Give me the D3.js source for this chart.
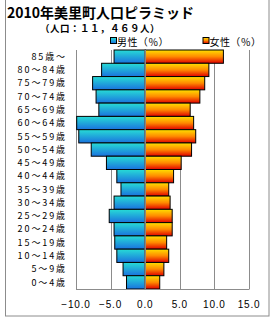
<!DOCTYPE html>
<html><head><meta charset="utf-8">
<script src="https://cdn.jsdelivr.net/npm/d3@7"></script>
<style>
html,body{margin:0;padding:0;background:#fff;}
svg{display:block;}
</style></head>
<body>
<script>
const categories = ["85歳〜","80〜84歳","75〜79歳","70〜74歳","65〜69歳","60〜64歳","55〜59歳","50〜54歳","45〜49歳","40〜44歳","35〜39歳","30〜34歳","25〜29歳","20〜24歳","15〜19歳","10〜14歳","5〜9歳","0〜4歳"];
const male =   [4.5, 6.3, 7.6, 7.1, 6.7, 9.9, 9.6, 7.8, 5.6, 4.1, 3.5, 4.5, 5.2, 4.5, 4.4, 4.1, 3.2, 2.7];
const female = [11.3, 9.2, 8.6, 7.9, 6.5, 7.0, 7.3, 6.7, 5.2, 4.1, 3.4, 3.6, 3.9, 3.9, 3.1, 3.4, 2.7, 2.1];
const xTicks = [-10, -5, 0, 5, 10, 15];
const title = "2010年美里町人口ピラミッド";
const subtitle = "（人口：１１，４６９人）";
const legendLabels = ["男性（％）", "女性（％）"];

const W = 270, H = 320;
const svg = d3.select("body").append("svg").attr("width", W).attr("height", H);
const defs = svg.append("defs");
const gm = defs.append("linearGradient").attr("id","gm").attr("x1",0).attr("y1",0).attr("x2",0).attr("y2",1);
gm.append("stop").attr("offset","0%").attr("stop-color","#27dcd6");
gm.append("stop").attr("offset","100%").attr("stop-color","#1a72de");
const gf = defs.append("linearGradient").attr("id","gf").attr("x1",0).attr("y1",0).attr("x2",0).attr("y2",1);
gf.append("stop").attr("offset","0%").attr("stop-color","#ffe000");
gf.append("stop").attr("offset","50%").attr("stop-color","#ff8a00");
gf.append("stop").attr("offset","100%").attr("stop-color","#e00000");

// outer border
svg.append("rect").attr("x",5.5).attr("y",-5).attr("width",263.5).attr("height",321)
  .attr("fill","none").attr("stroke","#8c8c8c");

const x = d3.scaleLinear().domain([-10, 15]).range([76, 249]);
const y = d3.scaleBand().domain(categories).range([50, 289]).padding(0);

const font = "'Noto Sans CJK JP', sans-serif";

// title
svg.append("text").attr("x",7).attr("y",18).attr("font-family",font).attr("font-weight","bold")
  .attr("font-size","14px").attr("fill","#000").text(title);
svg.append("text").attr("x",40).attr("y",31.5).attr("font-family",font).attr("font-weight","bold")
  .attr("font-size","9.5px").attr("letter-spacing","0.5px").attr("fill","#000").text(subtitle);

// legend
const leg = [{x:110, g:"url(#gm)", t:legendLabels[0]}, {x:202.5, g:"url(#gf)", t:legendLabels[1]}];
leg.forEach(l => {
  svg.append("rect").attr("x",l.x+0.5).attr("y",37.5).attr("width",6).attr("height",6)
    .attr("fill",l.g).attr("stroke","#000").attr("stroke-width",1);
  svg.append("text").attr("x",l.x+7).attr("y",45.5).attr("font-family",font)
    .attr("font-size","10px").attr("letter-spacing","0.4px").attr("fill","#000").text(l.t);
});

// gridlines
svg.append("g").selectAll("line").data(xTicks.filter(d => d !== 0)).join("line")
  .attr("x1", d => Math.round(x(d)) + 0.5).attr("x2", d => Math.round(x(d)) + 0.5)
  .attr("y1", 50).attr("y2", 289).attr("stroke","#8c8c8c").attr("stroke-width",1);

// bars
const rows = categories.map((c,i) => ({c, m: male[i], f: female[i]}));
svg.append("g").selectAll("rect").data(rows).join("rect")
  .attr("x", d => x(-d.m)).attr("width", d => x(0) - x(-d.m))
  .attr("y", d => y(d.c)).attr("height", y.bandwidth())
  .attr("fill","url(#gm)").attr("stroke","#000").attr("stroke-width",1);
svg.append("g").selectAll("rect").data(rows).join("rect")
  .attr("x", x(0)).attr("width", d => x(d.f) - x(0))
  .attr("y", d => y(d.c)).attr("height", y.bandwidth())
  .attr("fill","url(#gf)").attr("stroke","#000").attr("stroke-width",1);

// zero line and bottom axis
svg.append("line").attr("x1",x(0)).attr("x2",x(0)).attr("y1",50).attr("y2",290)
  .attr("stroke","#8c8c8c").attr("stroke-width",1.5);
svg.append("line").attr("x1",76).attr("x2",249.5).attr("y1",289.5).attr("y2",289.5)
  .attr("stroke","#8c8c8c").attr("stroke-width",1);

// y labels
svg.append("g").selectAll("text").data(categories).join("text")
  .attr("x", 67).attr("y", d => y(d) + y.bandwidth()/2 + 3.2)
  .attr("text-anchor","end").attr("font-family",font).attr("font-size","9px")
  .attr("letter-spacing","1.9px").attr("fill","#000").text(d => d);

// x tick labels
const fmt = d => (d < 0 ? "−" : "") + Math.abs(d).toFixed(1);
svg.append("g").selectAll("text").data(xTicks).join("text")
  .attr("x", d => x(d)).attr("y", 308)
  .attr("text-anchor","middle").attr("font-family","'Liberation Sans', sans-serif").attr("font-size","10px")
  .attr("letter-spacing","0.8px").attr("fill","#000").text(fmt);
</script>
</body></html>
